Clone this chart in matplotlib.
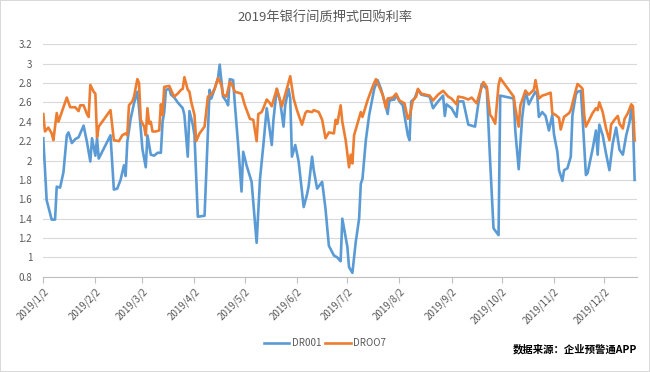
import matplotlib
matplotlib.use('Agg')
import matplotlib.pyplot as plt
import matplotlib.dates as mdates
import pandas as pd
from matplotlib.ticker import FuncFormatter

plt.rcParams['font.family'] = ['Noto Sans CJK SC', 'DejaVu Sans']

title = '2019年银行间质押式回购利率'
source_note = '数据来源：企业预警通APP'
month_labels = ['2019/1/2', '2019/2/2', '2019/3/2', '2019/4/2', '2019/5/2', '2019/6/2',
                '2019/7/2', '2019/8/2', '2019/9/2', '2019/10/2', '2019/11/2', '2019/12/2']

# DR001
dr001_dates = [
    '01-02', '01-04', '01-07', '01-09', '01-10', '01-12', '01-14', '01-16', '01-17', '01-19',
    '01-21', '01-23', '01-26', '01-28', '01-30', '01-31', '02-02', '02-03', '02-04', '02-11',
    '02-13', '02-15', '02-17', '02-19', '02-20', '02-21', '02-23', '02-25', '02-27', '02-28',
    '03-02', '03-04', '03-05', '03-07', '03-09', '03-11', '03-13', '03-14', '03-15', '03-16',
    '03-18', '03-19', '03-21', '03-23', '03-26', '03-27', '03-29', '03-30', '04-01', '04-02',
    '04-04', '04-08', '04-11', '04-12', '04-14', '04-16', '04-17', '04-19', '04-21', '04-22',
    '04-23', '04-25', '04-26', '04-28', '04-30', '05-01', '05-03', '05-06', '05-07', '05-09',
    '05-11', '05-13', '05-15', '05-18', '05-19', '05-21', '05-23', '05-25', '05-26', '05-28',
    '05-29', '05-30', '06-01', '06-03', '06-06', '06-08', '06-09', '06-11', '06-12', '06-14',
    '06-17', '06-19', '06-21', '06-24', '06-26', '06-28', '06-29', '07-02', '07-03', '07-05',
    '07-07', '07-09', '07-10', '07-11', '07-13', '07-15', '07-18', '07-20', '07-22', '07-24',
    '07-26', '07-27', '07-30', '07-31', '08-02', '08-04', '08-07', '08-08', '08-09', '08-11',
    '08-13', '08-15', '08-20', '08-22', '08-25', '08-28', '08-29', '08-30', '09-02', '09-05',
    '09-06', '09-09', '09-12', '09-16', '09-18', '09-20', '09-23', '09-25', '09-27', '09-30',
    '10-01', '10-09', '10-10', '10-12', '10-14', '10-16', '10-18', '10-20', '10-22', '10-23',
    '10-24', '10-26', '10-28', '10-30', '11-01', '11-02', '11-04', '11-05', '11-07', '11-08',
    '11-10', '11-12', '11-13', '11-15', '11-16', '11-18', '11-19', '11-21', '11-22', '11-25',
    '11-27', '11-28', '11-29', '12-01', '12-03', '12-05', '12-07', '12-09', '12-11', '12-13',
    '12-15', '12-17', '12-18', '12-19', '12-20']
dr001 = [
    2.23, 1.59, 1.39, 1.39, 1.73, 1.72, 1.88, 2.26, 2.29, 2.18,
    2.22, 2.24, 2.36, 2.19, 1.99, 2.23, 2.05, 2.23, 2.02, 2.26,
    1.70, 1.71, 1.80, 1.95, 1.84, 2.19, 2.43, 2.59, 2.71, 2.54,
    2.12, 1.93, 2.26, 2.06, 2.05, 2.08, 2.08, 2.40, 2.50, 2.73,
    2.74, 2.68, 2.65, 2.60, 2.54, 2.47, 2.04, 2.51, 2.37, 2.26,
    1.42, 1.43, 2.73, 2.64, 2.74, 2.85, 2.99, 2.66, 2.61, 2.57,
    2.84, 2.83, 2.59, 2.16, 1.68, 2.09, 1.95, 1.78, 1.57, 1.15,
    1.81, 2.16, 2.54, 2.16, 2.42, 2.74, 2.61, 2.35, 2.57, 2.74,
    2.64, 2.04, 2.16, 1.99, 1.52, 1.65, 1.74, 2.04, 1.90, 1.71,
    1.78, 1.50, 1.12, 1.02, 1.00, 0.96, 1.40, 1.11, 0.90, 0.84,
    1.16, 1.40, 1.76, 1.81, 2.21, 2.47, 2.74, 2.83, 2.74, 2.62,
    2.48, 2.62, 2.63, 2.68, 2.61, 2.57, 2.26, 2.21, 2.61, 2.64,
    2.73, 2.68, 2.66, 2.54, 2.61, 2.67, 2.46, 2.58, 2.54, 2.45,
    2.61, 2.61, 2.37, 2.35, 2.59, 2.79, 2.74, 1.99, 1.30, 1.23,
    2.67, 2.64, 2.30, 1.91, 2.43, 2.72, 2.58, 2.65, 2.71, 2.68,
    2.45, 2.50, 2.46, 2.31, 2.47, 2.27, 2.09, 1.90, 1.79, 1.90,
    1.92, 2.04, 2.47, 2.68, 2.71, 2.72, 2.45, 1.85, 1.87, 2.12,
    2.31, 2.06, 2.37, 2.26, 2.07, 1.90, 2.18, 2.34, 2.11, 2.06,
    2.26, 2.40, 2.54, 2.40, 1.80]

# DR007
dr007_dates = [
    '01-02', '01-03', '01-05', '01-07', '01-08', '01-10', '01-11', '01-13', '01-16', '01-18',
    '01-21', '01-23', '01-24', '01-26', '01-28', '01-29', '01-30', '02-01', '02-02', '02-03',
    '02-04', '02-11', '02-13', '02-16', '02-18', '02-20', '02-21', '02-22', '02-24', '02-25',
    '02-27', '02-28', '03-01', '03-03', '03-04', '03-05', '03-06', '03-07', '03-08', '03-10',
    '03-12', '03-13', '03-14', '03-15', '03-18', '03-20', '03-21', '03-23', '03-25', '03-26',
    '03-27', '03-29', '03-30', '03-31', '04-02', '04-03', '04-05', '04-08', '04-10', '04-12',
    '04-14', '04-16', '04-18', '04-19', '04-21', '04-23', '04-24', '04-26', '04-30', '05-02',
    '05-05', '05-07', '05-09', '05-10', '05-12', '05-13', '05-15', '05-17', '05-18', '05-21',
    '05-24', '05-26', '05-29', '05-31', '06-02', '06-05', '06-07', '06-08', '06-11', '06-12',
    '06-15', '06-17', '06-19', '06-21', '06-24', '06-25', '06-26', '06-28', '06-29', '07-01',
    '07-03', '07-04', '07-05', '07-06', '07-08', '07-10', '07-11', '07-14', '07-17', '07-19',
    '07-21', '07-23', '07-25', '07-26', '07-29', '07-31', '08-02', '08-05', '08-07', '08-08',
    '08-10', '08-12', '08-13', '08-15', '08-20', '08-22', '08-25', '08-28', '08-31', '09-02',
    '09-05', '09-06', '09-09', '09-12', '09-14', '09-17', '09-19', '09-21', '09-23', '09-25',
    '09-26', '09-28', '09-30', '10-01', '10-09', '10-10', '10-12', '10-13', '10-16', '10-18',
    '10-21', '10-22', '10-24', '10-26', '10-28', '10-31', '11-01', '11-03', '11-05', '11-06',
    '11-08', '11-11', '11-12', '11-14', '11-16', '11-18', '11-19', '11-20', '11-21', '11-23',
    '11-25', '11-27', '11-28', '11-29', '12-01', '12-03', '12-05', '12-06', '12-08', '12-10',
    '12-11', '12-13', '12-14', '12-16', '12-18', '12-19', '12-20']
dr007 = [
    2.48, 2.30, 2.34, 2.28, 2.21, 2.49, 2.40, 2.50, 2.65, 2.55,
    2.55, 2.51, 2.57, 2.57, 2.48, 2.45, 2.78, 2.71, 2.69, 2.24,
    2.35, 2.52, 2.21, 2.20, 2.26, 2.28, 2.26, 2.57, 2.61, 2.66,
    2.84, 2.80, 2.42, 2.35, 2.26, 2.54, 2.38, 2.40, 2.30, 2.30,
    2.31, 2.58, 2.47, 2.76, 2.77, 2.69, 2.66, 2.69, 2.73, 2.74,
    2.86, 2.73, 2.71, 2.61, 2.47, 2.20, 2.28, 2.35, 2.66, 2.68,
    2.74, 2.85, 2.78, 2.68, 2.66, 2.81, 2.80, 2.71, 2.69, 2.57,
    2.43, 2.42, 2.20, 2.48, 2.50, 2.54, 2.63, 2.59, 2.56, 2.74,
    2.56, 2.68, 2.87, 2.64, 2.52, 2.37, 2.49, 2.51, 2.50, 2.52,
    2.50, 2.42, 2.23, 2.29, 2.28, 2.42, 2.38, 2.57, 2.40, 2.21,
    1.93, 2.06, 1.97, 2.26, 2.38, 2.50, 2.45, 2.62, 2.76, 2.84,
    2.76, 2.68, 2.54, 2.64, 2.65, 2.69, 2.62, 2.59, 2.43, 2.45,
    2.62, 2.66, 2.74, 2.69, 2.67, 2.62, 2.68, 2.72, 2.66, 2.64,
    2.58, 2.66, 2.65, 2.63, 2.65, 2.59, 2.71, 2.81, 2.76, 2.47,
    2.45, 2.38, 2.78, 2.85, 2.66, 2.54, 2.35, 2.57, 2.72, 2.68,
    2.73, 2.83, 2.64, 2.67, 2.68, 2.70, 2.49, 2.47, 2.44, 2.32,
    2.45, 2.49, 2.52, 2.66, 2.79, 2.76, 2.74, 2.47, 2.35, 2.42,
    2.49, 2.54, 2.52, 2.60, 2.50, 2.33, 2.21, 2.37, 2.42, 2.46,
    2.38, 2.33, 2.43, 2.49, 2.58, 2.56, 2.21]

blue = '#5B9BD5'
orange = '#ED7D31'
grey_text = '#595959'

x1 = pd.to_datetime(['2019-' + d for d in dr001_dates])
x7 = pd.to_datetime(['2019-' + d for d in dr007_dates])
ticks = pd.to_datetime(month_labels, format='%Y/%m/%d')

fig = plt.figure(figsize=(6.5, 3.72), dpi=100, edgecolor='#d9d9d9', linewidth=1.2)
ax = fig.add_axes([0.0666, 0.256, 0.9134, 0.625])

ax.plot(x1, dr001, color=blue, lw=1.9, label='DR001', solid_joinstyle='round')
ax.plot(x7, dr007, color=orange, lw=1.9, label='DROO7', solid_joinstyle='round')

ax.set_ylim(0.8, 3.2)
ax.set_yticks([0.8 + 0.2 * i for i in range(13)])
ax.yaxis.set_major_formatter(FuncFormatter(lambda v, p: f'{round(v, 1):g}'))
ax.set_xlim(pd.Timestamp('2019-01-02'), pd.Timestamp('2019-12-21 10:00'))
ax.set_xticks(ticks)
ax.set_xticklabels(month_labels, rotation=45, ha='right', rotation_mode='anchor')

ax.grid(axis='y', color='#d9d9d9', lw=0.8)
ax.set_axisbelow(True)
for s in ['top', 'right', 'left']:
    ax.spines[s].set_visible(False)
ax.spines['bottom'].set_color('#bfbfbf')
ax.tick_params(axis='y', length=0, labelsize=7, labelcolor=grey_text, pad=8)
ax.tick_params(axis='x', length=4, color='#bfbfbf', labelsize=7, labelcolor=grey_text, pad=3)

fig.text(0.5, 0.953, title, ha='center', va='center', fontsize=9.5, color=grey_text)

ax.legend(loc='center', bbox_to_anchor=(0.5, 0.078), bbox_transform=fig.transFigure,
          ncol=2, frameon=False, fontsize=7, labelcolor=grey_text,
          handlelength=2.6, columnspacing=0.4, handletextpad=0.3)

fig.text(0.98, 0.062, source_note, ha='right', va='center', fontsize=7.5,
         fontweight='bold', color='black')

fig.savefig('out.png', dpi=100, edgecolor=fig.get_edgecolor())
